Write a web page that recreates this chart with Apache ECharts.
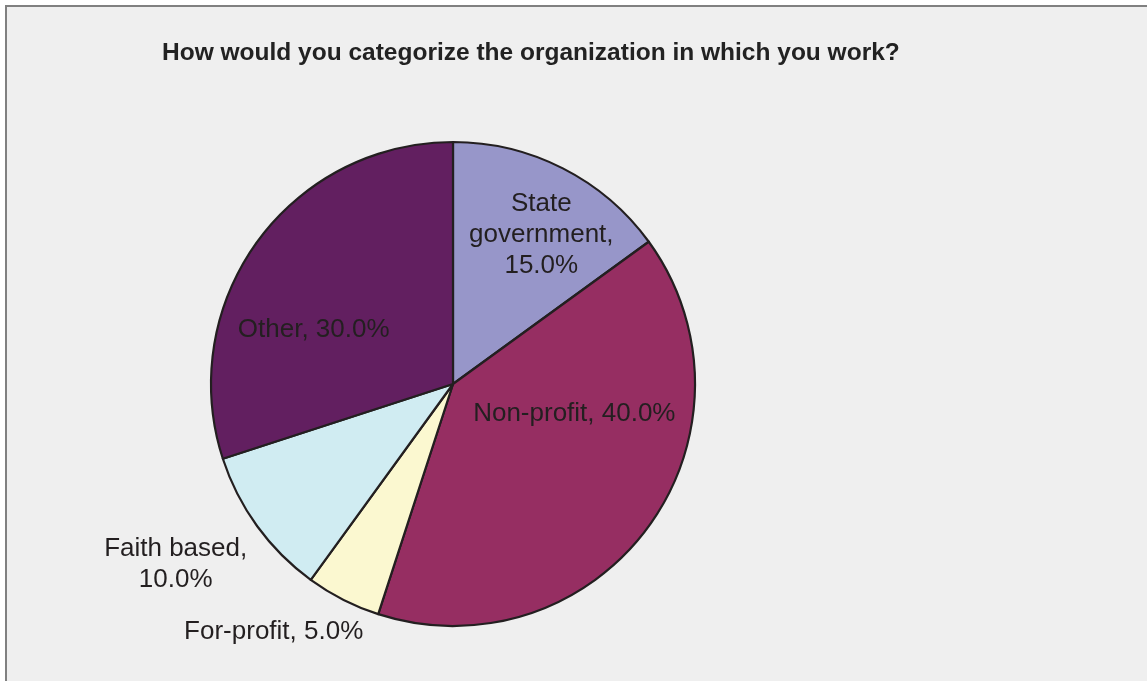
<!DOCTYPE html>
<html>
<head>
<meta charset="utf-8">
<script src="https://cdn.jsdelivr.net/npm/echarts@6/dist/echarts.min.js"></script>
<style>
  html, body { margin: 0; padding: 0; background: #ffffff; }
  #panel {
    position: absolute; left: 5px; top: 5px; right: 0; bottom: 0;
    background: #efefef;
    border-left: 2px solid #808080;
    border-top: 2px solid #808080;
  }
  #chart { position: absolute; left: 0; top: 0; width: 1147px; height: 681px; }
</style>
</head>
<body>
<div id="panel"></div>
<div id="chart"></div>
<script>
// Survey answers: organization type
const categories = ['State government', 'Non-profit', 'For-profit', 'Faith based', 'Other'];
const values = [15, 40, 5, 10, 30];
const sliceColors = ['#9796c9', '#962e62', '#fbf8d0', '#d0ecf2', '#621f60'];

// How each slice label is broken into lines
const labelText = {
  'State government': pct => 'State\ngovernment,\n' + pct,
  'Faith based': pct => 'Faith based,\n' + pct
};

// Nudges applied to the label positions (pixels)
const labelNudge = [[32, -39], [21, -43], [-123, 137], [-177, 107], [-39, 19]];

const FONT = "'Liberation Sans', Arial, Helvetica, sans-serif";

const chart = echarts.init(document.getElementById('chart'), null, { renderer: 'canvas' });

chart.setOption({
  backgroundColor: 'transparent',
  animation: false,
  title: {
    text: 'How would you categorize the organization in which you work?',
    left: 157,
    top: 36,
    textStyle: { fontFamily: FONT, fontSize: 24.5, fontWeight: 'bold', color: '#222222' }
  },
  series: [{
    type: 'pie',
    center: [453, 384],
    radius: [0, 242],
    startAngle: 90,
    clockwise: true,
    percentPrecision: 1,
    avoidLabelOverlap: false,
    itemStyle: { borderColor: '#231f20', borderWidth: 2.2 },
    label: {
      show: true,
      position: 'inside',
      fontFamily: FONT,
      fontSize: 26,
      lineHeight: 31,
      color: '#231f20',
      align: 'center',
      formatter: p => {
        const pct = p.percent.toFixed(1) + '%';
        return labelText[p.name] ? labelText[p.name](pct) : p.name + ', ' + pct;
      }
    },
    labelLine: { show: false },
    labelLayout: params => ({ dx: labelNudge[params.dataIndex][0], dy: labelNudge[params.dataIndex][1] }),
    emphasis: { disabled: true },
    data: categories.map((c, i) => ({ name: c, value: values[i], itemStyle: { color: sliceColors[i] } }))
  }]
});
</script>
</body>
</html>
